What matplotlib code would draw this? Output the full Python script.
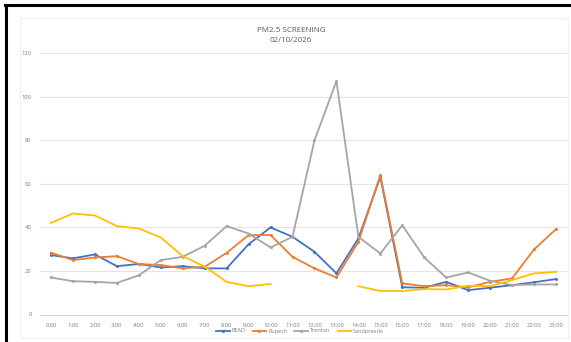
import matplotlib.pyplot as plt
import numpy as np
from matplotlib.lines import Line2D
from matplotlib.patches import Rectangle

hours = [f"{h}:00" for h in range(24)]

bead = [27.3, 25.8, 27.6, 22.2, 23.2, 21.6, 22.2, 21.2, 21.2, 32.3, 40.0, 35.7,
        28.8, 18.9, 35.0, 63.2, 12.5, 12.3, 15.0, 11.2, 12.3, 13.5, 14.8, 16.3]
rupesh = [28.4, 25.0, 26.2, 26.8, 23.2, 22.7, 21.2, 21.9, 28.3, 36.5, 36.5, 26.5,
          21.2, 17.0, 33.4, 64.0, 14.3, 13.0, 13.5, 12.5, 15.0, 16.6, 29.9, 39.2]
trenton = [17.0, 15.3, 15.0, 14.5, 18.0, 25.0, 26.5, 31.6, 40.6, 37.2, 30.8, 35.7,
           80.0, 107.2, 35.7, 28.0, 41.0, 26.2, 17.0, 19.3, 15.5, 13.5, 13.8, 13.8]
sandpreetle = [42.1, 46.4, 45.5, 40.6, 39.5, 35.4, 26.8, 22.0, 15.0, 13.0, 14.0, np.nan,
               np.nan, np.nan, 13.0, 10.8, 10.8, 11.7, 11.5, 13.2, 13.0, 15.8, 18.9, 19.6]

series = [
    ("BEAD", bead, "#4472C4", "D"),
    ("Rupesh", rupesh, "#ED7D31", "D"),
    ("Trenton", trenton, "#A5A5A5", "D"),
    ("Sandpreetle", sandpreetle, "#FFC000", None),
]

plt.rcParams["font.family"] = ["Open Sans", "DejaVu Sans"]

fig = plt.figure(figsize=(5.71, 3.42), dpi=100)
W, H = 571, 342
ax = fig.add_axes([40 / W, 1 - 314.5 / H, 527 / W, (314.5 - 53.3) / H])

x = np.arange(len(hours))
for name, values, color, marker in series:
    ax.plot(x, values, color=color, lw=1.3, marker=marker, markersize=1.1,
            label=name, solid_joinstyle="round")

ax.set_xlim(-0.5, len(hours) - 0.5)
ax.set_ylim(0, 120)
ax.set_yticks(range(0, 121, 20))
ax.set_xticks(x)
ax.set_xticklabels(hours)
ax.tick_params(axis="both", length=0, labelsize=4.2, labelcolor="#7f7f7f", pad=6)
ax.grid(axis="y", color="#e4e4e4", lw=0.8)
ax.set_axisbelow(True)
for side in ["top", "right", "left"]:
    ax.spines[side].set_visible(False)
ax.spines["bottom"].set_color("#d9d9d9")
ax.spines["bottom"].set_linewidth(0.8)

fig.text(291 / W, 1 - 30 / H, "PM2.5 SCREENING", ha="center", va="center",
         fontsize=5.8, color="#595959")
fig.text(291 / W, 1 - 41 / H, "02/10/2026", ha="center", va="center",
         fontsize=5.8, color="#595959")

fig.legend(loc="center", bbox_to_anchor=(300 / W, 1 - 331 / H), ncol=4, frameon=False,
           fontsize=4, labelcolor="#7f7f7f", handlelength=2.5, columnspacing=1.3,
           handletextpad=0.3)

# faint chart-area frame and the black outer frame
fig.add_artist(Rectangle((20 / W, 1 - 338 / H), 548 / W, 320 / H, transform=fig.transFigure,
                         fill=False, edgecolor="#f0f0f0", lw=0.8))
fig.add_artist(Line2D([6 / W, 6 / W], [0, 1 - 5 / H], transform=fig.transFigure,
                      color="black", lw=2.2))
fig.add_artist(Line2D([5 / W, 1], [1 - 5 / H, 1 - 5 / H], transform=fig.transFigure,
                      color="black", lw=2.2))

fig.savefig("out.png", dpi=100, facecolor="white")
